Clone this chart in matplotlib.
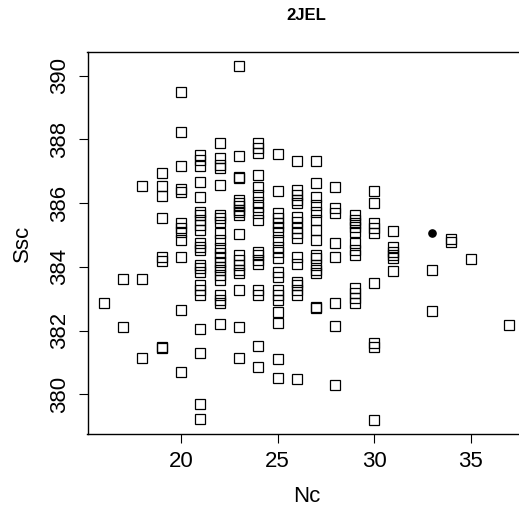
import matplotlib
matplotlib.use("Agg")
import matplotlib.pyplot as plt

plt.rcParams['font.family'] = ['Liberation Sans', 'DejaVu Sans']

# Nc (x) -> list of Ssc values (y), open squares
ssc_by_nc = {
    16: [382.86],
    17: [383.61, 382.10],
    18: [386.55, 383.61, 381.15],
    19: [386.94, 386.55, 386.23, 385.52, 384.32, 384.19, 381.50, 381.45],
    20: [389.50, 388.24, 387.16, 386.44, 386.36, 385.37, 385.21, 385.10, 384.85,
         384.30, 382.65, 380.71],
    21: [387.51, 387.35, 387.16, 386.67, 386.20, 385.73, 385.63, 385.47, 385.31,
         385.16, 384.74, 384.63, 384.53, 384.06, 383.96, 383.85, 383.43, 383.28,
         383.12, 382.05, 381.31, 379.69, 379.22],
    22: [387.88, 387.41, 387.20, 387.09, 386.57, 385.63, 385.52, 385.42, 385.05,
         384.85, 384.58, 384.43, 384.32, 384.16, 384.01, 383.90, 383.75, 383.59,
         383.12, 382.96, 382.86, 382.21],
    23: [390.31, 387.49, 386.83, 386.78, 386.10, 386.00, 385.90, 385.80, 385.72,
         385.63, 385.02, 384.37, 384.21, 384.06, 383.90, 383.80, 383.28, 382.13,
         381.15],
    24: [387.88, 387.72, 387.56, 386.88, 386.52, 386.26, 386.05, 385.89, 385.68,
         385.47, 384.48, 384.37, 384.21, 384.10, 383.28, 383.12, 381.52, 380.87],
    25: [387.54, 386.39, 385.68, 385.52, 385.37, 385.26, 385.10, 384.85, 384.63,
         384.48, 384.27, 383.85, 383.69, 383.28, 383.12, 382.96, 382.60, 382.23,
         381.10, 380.53],
    26: [387.33, 386.41, 386.26, 386.10, 386.00, 385.58, 385.42, 385.21, 385.05,
         384.90, 384.32, 384.10, 383.54, 383.43, 383.28, 383.12, 380.48],
    27: [387.33, 386.64, 386.20, 385.94, 385.73, 385.47, 385.16, 384.85, 384.37,
         384.27, 384.06, 383.90, 383.80, 382.75, 382.70],
    28: [386.52, 385.84, 385.68, 384.74, 384.32, 382.86, 382.15, 380.30],
    29: [385.63, 385.47, 385.37, 385.26, 385.10, 384.74, 384.53, 384.37, 383.33,
         383.17, 383.02, 382.86],
    30: [386.39, 386.00, 385.37, 385.21, 385.05, 383.50, 381.60, 381.50, 379.20],
    31: [385.14, 384.63, 384.48, 384.37, 384.27, 383.87],
    33: [383.90, 382.62],
    34: [384.87, 384.79],
    35: [384.25],
    37: [382.18],
}

# native structure, filled dot
native_nc = [33]
native_ssc = [385.05]

x_ticks = [20, 25, 30, 35]
y_ticks = [380, 382, 384, 386, 388, 390]

nc = [k for k, vals in ssc_by_nc.items() for _ in vals]
ssc = [v for vals in ssc_by_nc.values() for v in vals]

fig = plt.figure(figsize=(5.19, 5.14), dpi=100)
# right edge of the box falls outside the picture, as in the original
ax = fig.add_axes([87.5 / 519, 80 / 514, 438 / 519, 382 / 514])

ax.plot(nc, ssc, linestyle='none', marker='s', markersize=7.8,
        markerfacecolor='none', markeredgecolor='black', markeredgewidth=0.9)
ax.plot(native_nc, native_ssc, linestyle='none', marker='o', markersize=5.2,
        color='black')

ax.set_xlim(15.16, 37.84)
ax.set_ylim(378.76, 390.74)
ax.set_xticks(x_ticks)
ax.set_yticks(y_ticks)
ax.tick_params(length=6.5, width=0.8, labelsize=16, pad=6)
ax.tick_params(axis='y', labelrotation=90)
for lab in ax.get_yticklabels():
    lab.set_verticalalignment('center')

for s in ax.spines.values():
    s.set_linewidth(1.0)

ax.set_xlabel('Nc', fontsize=16, va='center')
ax.xaxis.set_label_coords(0.5, (434 - 497) / 382)
ax.set_ylabel('Ssc', fontsize=16, va='center')
ax.yaxis.set_label_coords((22 - 87.5) / 438, 0.5)

fig.text(306.5 / 519, 1 - 16 / 514, '2JEL', ha='center', va='center',
         fontsize=12, fontweight='bold')

fig.savefig('out.png', dpi=100)
